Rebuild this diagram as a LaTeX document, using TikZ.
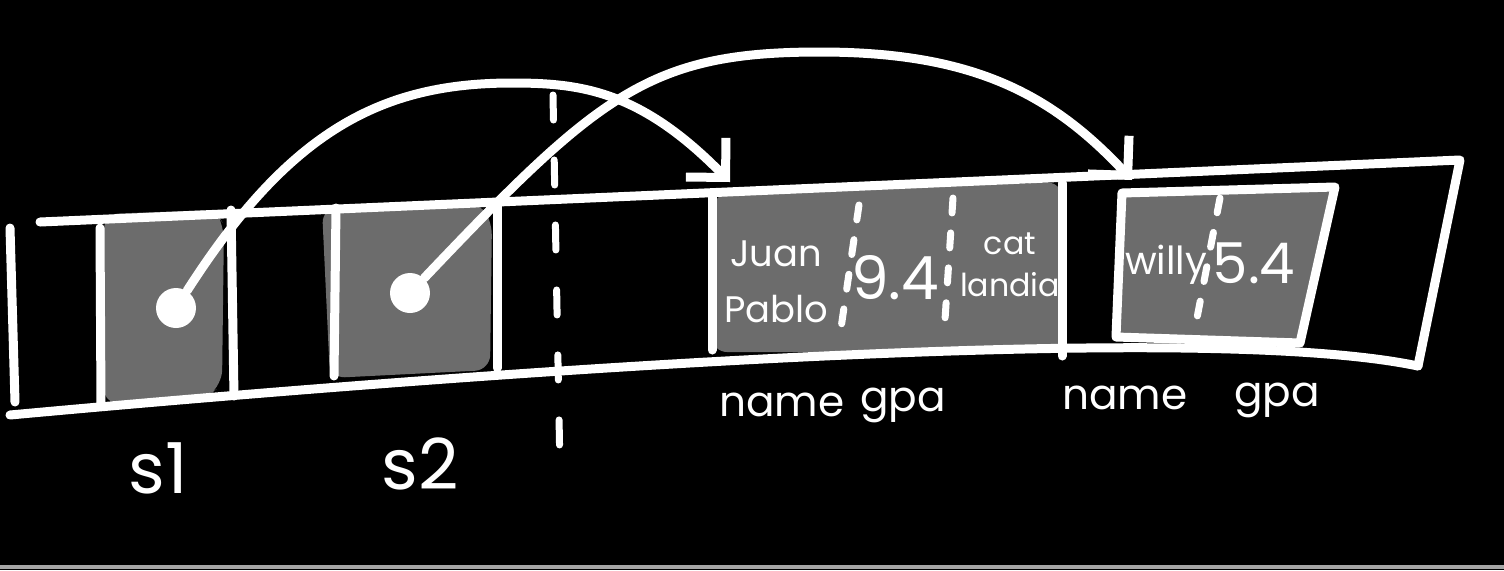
\documentclass[tikz,border=0pt]{standalone}
\usepackage{fontspec}
\setmainfont{Poppins}
\usetikzlibrary{arrows.meta}
\definecolor{cellgray}{RGB}{108,108,108}
\tikzset{
  pen/.style={white, line width=0.9mm, line cap=round, line join=round},
  sep/.style={white, line width=0.7mm, line cap=round, dash pattern=on 1.5mm off 2mm},
  cell/.style={fill=cellgray, rounded corners=1.5mm},
  hand/.style={text=white, inner sep=0pt, align=center, font=\fontsize{12}{14}\selectfont},
  bighand/.style={hand, font=\fontsize{17}{19}\selectfont},
  dot/.style={circle, fill=white, minimum size=4mm, inner sep=0pt},
  ptr/.style={pen, -{Straight Barb[length=2.8mm,width=5.6mm]}},
}

\begin{document}
\begin{tikzpicture}[x=0.1mm,y=-0.1mm]
  \useasboundingbox (0,0) rectangle (1504,570);
  \fill[black] (0,0) rectangle (1504,570);
  \draw[gray!70, line width=0.4mm] (0,567) -- (1504,567);

  \fill[cell] (104,214) -- (215,210) -- (224,225) -- (222,385) -- (205,398) -- (104,404) -- cycle;
  \fill[cell] (322,208) -- (480,203) -- (492,220) -- (490,370) -- (330,378) -- cycle;
  \fill[cell] (712,195) -- (1062,182) -- (1062,352) -- (712,352) -- cycle;
  \fill[cell] (1122,193) -- (1335,187) -- (1300,343) -- (1116,337) -- cycle;

  \draw[pen] (40,222) -- (1460,160) -- (1418,366);
  \draw[pen] (10,415) .. controls (500,370) and (1200,320) .. (1418,366);
  \draw[pen] (10,228) -- (15,402);
  \foreach \xa/\ya/\xb/\yb in {100/228/101/405, 231/210/234/396, 336/208/334/376, 497/203/497/368,
                              712/195/712/350, 1062/183/1062/356}
    \draw[pen] (\xa,\ya) -- (\xb,\yb);
  \draw[pen] (1116,337) -- (1122,193) -- (1335,187) -- (1300,343) -- cycle;

  \draw[sep, dash pattern=on 2.5mm off 4mm] (553,95) -- (560,470);
  \draw[sep] (859,205) -- (840,335);
  \draw[sep] (953,198) -- (944,335);
  \draw[sep] (1220,198) -- (1197,318);

  \node[hand, font=\fontsize{10.5}{16}\selectfont] (juan) at (776,282) {Juan\\Pablo};
  \node[bighand] (gpa1) at (895,278) {9.4};
  \node[hand, font=\fontsize{9}{12}\selectfont] (city) at (1010,265) {cat\\landia};
  \node[hand, font=\fontsize{11}{13}\selectfont] (willy) at (1166,265) {willy};
  \node[bighand, font=\fontsize{16}{18}\selectfont] (gpa2) at (1254,263) {5.4};

  \node[hand] (name1) at (782,405) {name};
  \node[hand] (gpa1lbl) at (903,405) {gpa};
  \node[hand] (name2) at (1125,398) {name};
  \node[hand] (gpa2lbl) at (1277,400) {gpa};
  \node[hand, font=\fontsize{20}{22}\selectfont] (s1) at (158,468) {s1};
  \node[hand, font=\fontsize{20}{22}\selectfont] (s2) at (420,464) {s2};

  \node[dot] (p1) at (176,308) {};
  \node[dot] (p2) at (410,293) {};
  \coordinate (t1) at (730,182);
  \coordinate (t2) at (1132,180);
  \draw[ptr] (p1) .. controls (290,130) and (382,83) .. (512,83)
                  .. controls (580,83) and (640,90) .. (t1);
  \draw[ptr] (p2) .. controls (600,93) and (650,52) .. (820,52)
                  .. controls (970,52) and (1050,92) .. (t2);
\end{tikzpicture}
\end{document}
